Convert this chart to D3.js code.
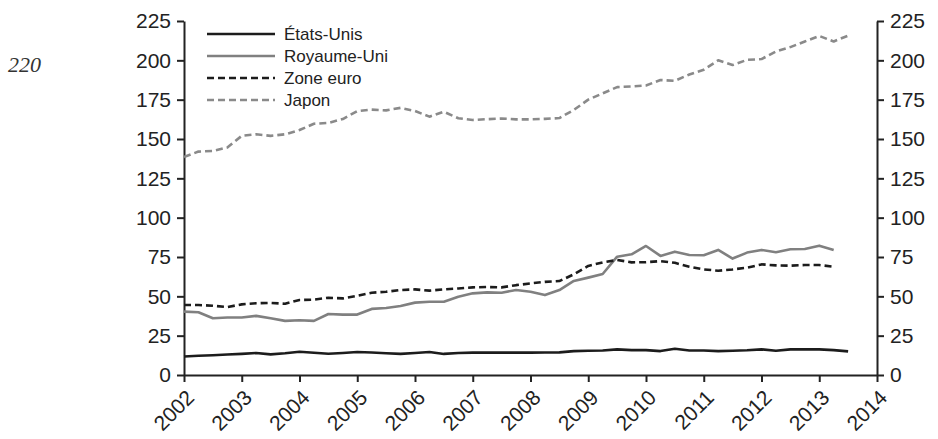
<!DOCTYPE html>
<html>
<head>
<meta charset="utf-8">
<script src="https://cdn.jsdelivr.net/npm/d3@7"></script>
<style>
  body { margin: 0; background: #fff; }
  svg { display: block; }
</style>
</head>
<body>
<script>
// quarterly series, first point = 2002 Q1
var startYear = 2002;
var etatsUnis = [11.8, 12.2, 12.6, 13.0, 13.4, 14.0, 13.1, 13.8, 14.8, 14.1, 13.5, 14.0,
  14.6, 14.3, 13.8, 13.4, 14.0, 14.6, 13.4, 14.0, 14.2, 14.2, 14.2, 14.2,
  14.2, 14.3, 14.4, 15.2, 15.4, 15.6, 16.3, 15.8, 15.8, 15.2, 16.7, 15.6,
  15.6, 15.2, 15.4, 15.7, 16.3, 15.4, 16.3, 16.3, 16.3, 15.8, 15.0];
var royaumeUni = [40.3, 39.9, 36.1, 36.5, 36.5, 37.6, 36.1, 34.4, 34.8, 34.4, 38.8, 38.4,
  38.4, 42.0, 42.6, 43.9, 46.0, 46.6, 46.6, 49.8, 51.9, 52.5, 52.3, 54.0,
  52.9, 50.8, 54.0, 59.8, 61.9, 64.2, 75.2, 76.7, 82.0, 75.7, 78.4, 76.3,
  76.1, 79.5, 74.0, 77.8, 79.5, 78.0, 79.9, 80.1, 82.2, 79.5];
var zoneEuro = [44.5, 44.5, 44.0, 43.2, 44.9, 45.6, 45.8, 45.3, 47.7, 47.9, 49.1, 48.7,
  50.4, 52.3, 52.9, 54.0, 54.4, 53.6, 54.4, 55.0, 55.7, 55.9, 55.7, 57.1,
  58.2, 59.2, 59.7, 64.0, 69.3, 71.6, 73.1, 71.6, 71.7, 72.4, 71.3, 68.8,
  67.1, 66.3, 67.1, 68.2, 70.3, 69.7, 69.5, 69.9, 69.9, 68.8];
var japon = [138.6, 142.0, 142.4, 144.6, 152.0, 153.0, 152.0, 153.0, 155.7, 159.7, 160.2, 162.7,
  167.7, 168.7, 168.2, 169.8, 167.8, 164.2, 167.3, 163.2, 162.1, 162.6, 163.0, 162.5,
  162.5, 162.8, 163.3, 168.5, 175.0, 179.0, 183.0, 183.4, 184.0, 187.5, 187.0, 191.0,
  194.0, 200.0, 197.0, 200.3, 200.8, 205.6, 208.4, 212.0, 215.5, 212.0, 215.7];

var yTicks = [0, 25, 50, 75, 100, 125, 150, 175, 200, 225];
var xTicks = d3.range(2002, 2015);

var series = [
  {name: "États-Unis", values: etatsUnis, color: "#1c1c1c", dash: null},
  {name: "Royaume-Uni", values: royaumeUni, color: "#808080", dash: null},
  {name: "Zone euro", values: zoneEuro, color: "#1c1c1c", dash: "7,4"},
  {name: "Japon", values: japon, color: "#8a8a8a", dash: "7,4"}
];

var W = 938, H = 439;
var margin = {top: 21, right: 61, bottom: 64, left: 184},
    width = W - margin.left - margin.right,
    height = H - margin.top - margin.bottom;

var svg = d3.select("body").append("svg")
    .attr("width", W)
    .attr("height", H);

// page number left over from the scan
svg.append("text")
    .attr("x", 8)
    .attr("y", 72)
    .style("font-family", "'Liberation Serif', 'DejaVu Serif', serif")
    .style("font-style", "italic")
    .style("font-size", "22px")
    .style("fill", "#333")
    .text("220");

var g = svg.append("g")
    .attr("transform", "translate(" + margin.left + "," + margin.top + ")");

var x = d3.scaleLinear().domain([2002, 2014]).range([0, width]);
var y = d3.scaleLinear().domain([0, 225]).range([height, 0]);

var axisFont = "'Liberation Sans', Arial, sans-serif";

// left and right axes
var left = g.append("g")
    .call(d3.axisLeft(y).tickValues(yTicks).tickSize(7).tickPadding(6).tickSizeOuter(0));
var right = g.append("g")
    .attr("transform", "translate(" + width + ",0)")
    .call(d3.axisRight(y).tickValues(yTicks).tickSize(7).tickPadding(6).tickSizeOuter(0));

// bottom axis with slanted years
var bottom = g.append("g")
    .attr("transform", "translate(0," + height + ")")
    .call(d3.axisBottom(x).tickValues(xTicks).tickFormat(d3.format("d")).tickSize(7).tickSizeOuter(0));

bottom.selectAll("text")
    .attr("text-anchor", "end")
    .attr("dy", null)
    .attr("y", null)
    .attr("transform", "translate(11,24) rotate(-45)");

[left, right, bottom].forEach(function(a) {
  a.selectAll("path, line").attr("stroke", "#222").attr("stroke-width", 2);
  a.selectAll("text")
      .style("font-family", axisFont)
      .style("font-size", "21px")
      .style("fill", "#222");
});

// lines
var line = d3.line()
    .x(function(d, i) { return x(startYear + i / 4); })
    .y(function(d) { return y(d); });

series.forEach(function(s) {
  g.append("path")
      .datum(s.values)
      .attr("fill", "none")
      .attr("stroke", s.color)
      .attr("stroke-width", 2.6)
      .attr("stroke-dasharray", s.dash)
      .attr("stroke-linejoin", "round")
      .attr("d", line);
});

// legend
var legend = svg.append("g").attr("transform", "translate(207,34)");
series.forEach(function(s, i) {
  var row = legend.append("g").attr("transform", "translate(0," + (i * 22) + ")");
  row.append("line")
      .attr("x1", 0).attr("x2", 68)
      .attr("stroke", s.color)
      .attr("stroke-width", 2.6)
      .attr("stroke-dasharray", s.dash);
  row.append("text")
      .attr("x", 77)
      .attr("dy", "0.35em")
      .style("font-family", axisFont)
      .style("font-size", "17px")
      .style("fill", "#222")
      .text(s.name);
});
</script>
</body>
</html>
